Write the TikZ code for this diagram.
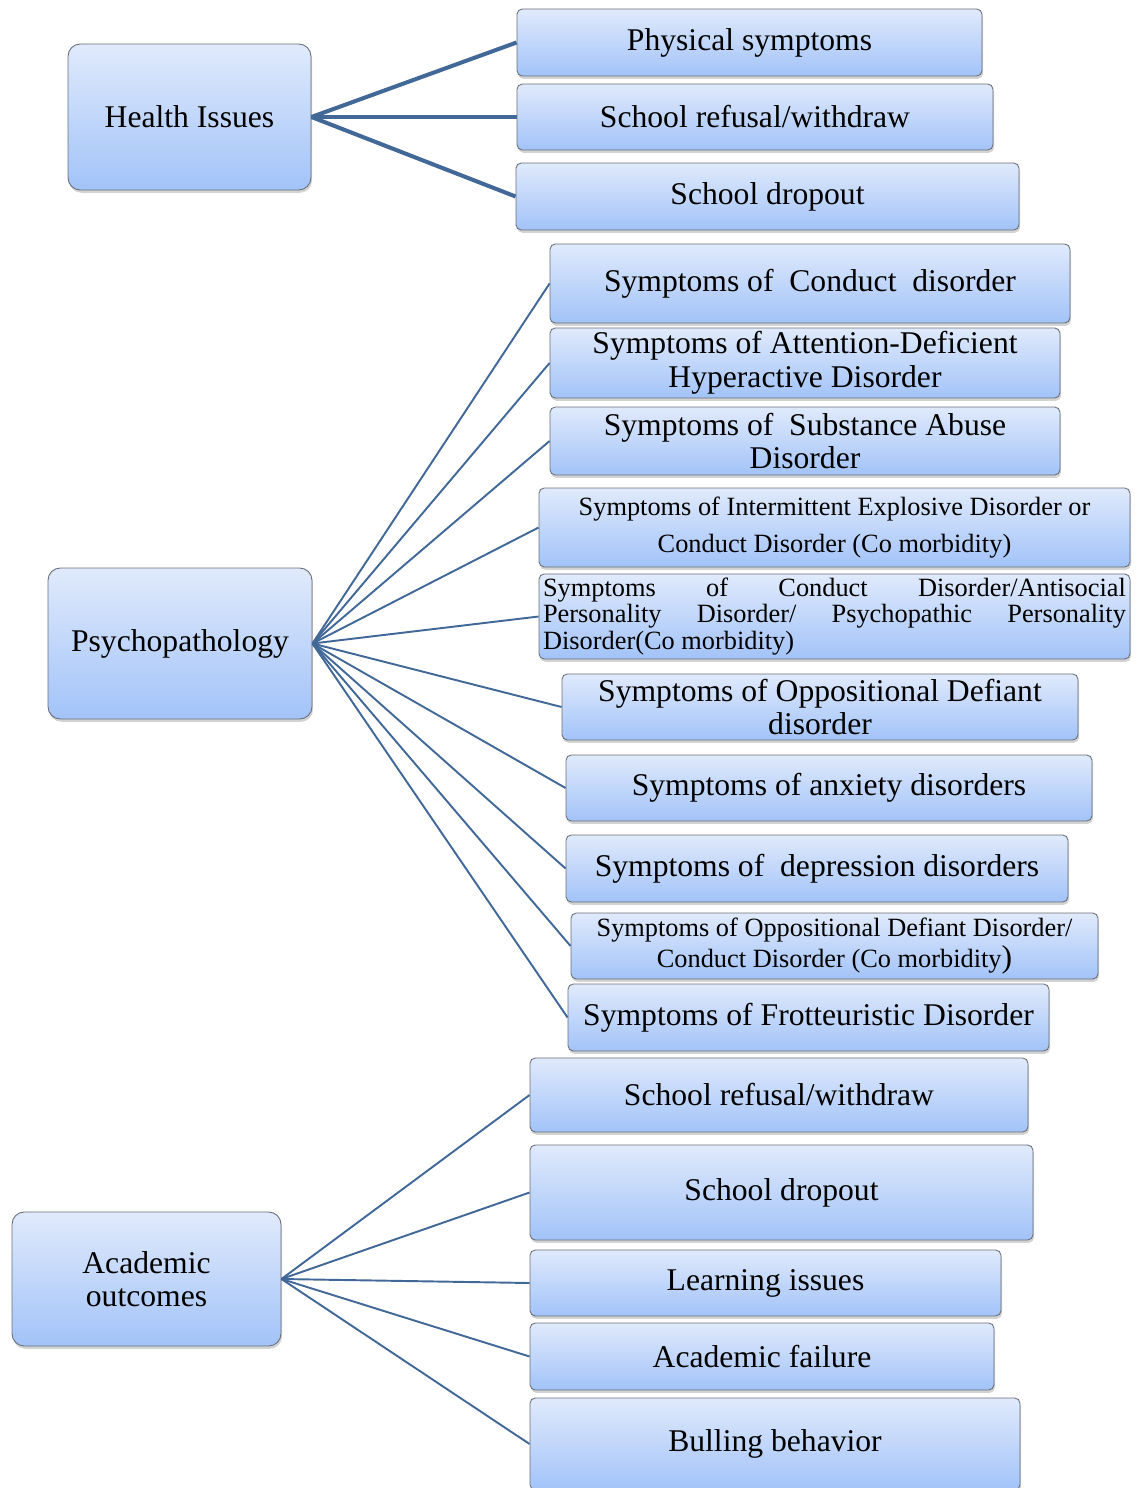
\documentclass[tikz,border=0pt]{standalone}
\usepackage{fontspec}
\setmainfont{Liberation Serif}
\usetikzlibrary{shadows}
\definecolor{boxtop}{RGB}{224,234,252}
\definecolor{boxbot}{RGB}{162,195,248}
\definecolor{boxedge}{RGB}{105,110,120}
\definecolor{linkblue}{RGB}{66,104,152}
\tikzset{
  box/.style = {draw=boxedge, line width=0.5pt, top color=boxtop, bottom color=boxbot, align=center, inner sep=2pt,
    drop shadow={shadow xshift=0.6pt, shadow yshift=-1.6pt, opacity=0.35},
    font=\fontsize{18}{20}\selectfont},
  sz/.style 2 args = {minimum width=#1*0.02cm, minimum height=#2*0.02cm},
  box_root/.style = {box, rounded corners=7pt},
  box_leaf/.style = {box, rounded corners=3pt},
  box_small/.style = {box_leaf, font=\fontsize{15}{18}\selectfont},
  link_thick/.style = {draw=linkblue, line width=2.3pt},
  link/.style = {draw=linkblue, line width=1.1pt},
}

\begin{document}
\begin{tikzpicture}[x=0.02cm, y=-0.02cm]
  \useasboundingbox (0,0) rectangle (1143,1488);

  \node [box_root, sz={243}{146}] (health) at (189.5,117) {Health Issues};
  \node [box_leaf, sz={465}{67}] (h1) at (749.5,42.5) {Physical symptoms};
  \node [box_leaf, sz={476}{66}] (h2) at (755,117) {School refusal/withdraw};
  \node [box_leaf, sz={503}{67}] (h3) at (767.5,196.5) {School dropout};

  \node [box_root, sz={264}{151}] (psy) at (180,643.5) {Psychopathology};
  \node [box_leaf, sz={520}{79}] (p1) at (810,283.5) {Symptoms of~ Conduct~ disorder};
  \node [box_leaf, sz={510}{66}, font=\fontsize{18}{19.3}\selectfont] (p2) at (805,363)
    {Symptoms of Attention-Deficient\\Hyperactive Disorder};
  \node [box_leaf, sz={510}{68}, font=\fontsize{18}{18.7}\selectfont] (p3) at (805,441)
    {Symptoms of~ Substance Abuse\\Disorder};
  \node [box_small, sz={591}{79}, font=\fontsize{15}{21.5}\selectfont] (p4) at (834.5,527.5)
    {Symptoms of Intermittent Explosive Disorder or\\Conduct Disorder (Co morbidity)};
  \node [box_small, sz={591}{79}, text width=11.66cm, align=justify, font=\fontsize{15}{15.3}\selectfont] (p5) at (834.5,616.5)
    {Symptoms of Conduct Disorder/Antisocial\linebreak Personality Disorder/ Psychopathic Personality\linebreak Disorder(Co morbidity)};
  \node [box_leaf, sz={516}{66}, font=\fontsize{18}{18.7}\selectfont] (p6) at (820,707)
    {Symptoms of Oppositional Defiant\\disorder};
  \node [box_leaf, sz={526}{66}] (p7) at (829,788) {Symptoms of anxiety disorders};
  \node [box_leaf, sz={502}{67}] (p8) at (817,868.5) {Symptoms of~ depression disorders};
  \node [box_small, sz={527}{66}] (p9) at (834.5,946)
    {Symptoms of Oppositional Defiant Disorder/\\Conduct Disorder (Co morbidity{\fontsize{18}{18}\selectfont)}};
  \node [box_leaf, sz={481}{67}] (p10) at (808.5,1017.5) {Symptoms of Frotteuristic Disorder};

  \node [box_root, sz={269}{134}, font=\fontsize{18}{18.7}\selectfont] (acad) at (146.5,1279) {Academic\\outcomes};
  \node [box_leaf, sz={498}{74}] (a1) at (779,1095) {School refusal/withdraw};
  \node [box_leaf, sz={503}{95}] (a2) at (781.5,1192.5) {School dropout};
  \node [box_leaf, sz={471}{66}] (a3) at (765.5,1283) {Learning issues};
  \node [box_leaf, sz={464}{67}] (a4) at (762,1356.5) {Academic failure};
  \node [box_leaf, sz={490}{92}] (a5) at (775,1444) {Bulling behavior};

  \foreach \n in {h1,h2,h3}
    \draw [link_thick] (health.east) -- (\n.west);
  \foreach \n in {p1,p2,p3,p4,p5,p6,p7,p8,p9,p10}
    \draw [link] (psy.east) -- (\n.west);
  \foreach \n in {a1,a2,a3,a4,a5}
    \draw [link] (acad.east) -- (\n.west);
\end{tikzpicture}
\end{document}
